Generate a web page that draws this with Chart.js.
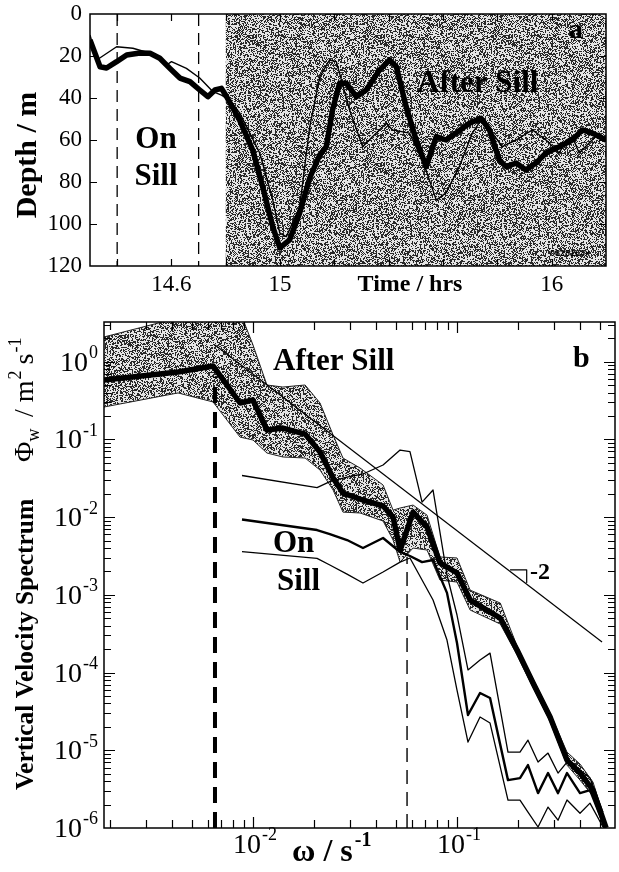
<!DOCTYPE html>
<html>
<head>
<meta charset="utf-8">
<script src="https://cdn.jsdelivr.net/npm/chart.js@4.4.0/dist/chart.umd.min.js"></script>
<style>
  body { margin: 0; background: #fff; }
  #wrap { position: relative; width: 619px; height: 872px; }
  canvas { position: absolute; left: 0; }
</style>
</head>
<body>
<div id="wrap">
  <canvas id="depthChart" width="619" height="300" style="top:0px"></canvas>
  <canvas id="spectrumChart" width="619" height="572" style="top:300px"></canvas>
</div>
<script>
// ---- panel a : isopycnal depth vs time ----
const timeThick = [14.300, 14.337, 14.361, 14.398, 14.435, 14.484, 14.521, 14.557, 14.594, 14.631, 14.668, 14.704, 14.734, 14.760, 14.784, 14.803,
  14.851, 14.899, 14.936, 14.973, 14.999, 15.035, 15.072, 15.109, 15.146, 15.170, 15.193, 15.219, 15.244, 15.281, 15.317, 15.366, 15.403, 15.428,
  15.464, 15.501, 15.538, 15.575, 15.611, 15.648, 15.697, 15.740, 15.771, 15.807, 15.832, 15.869, 15.905, 15.942, 15.979, 16.028, 16.076, 16.113, 16.149, 16.2];
const depthThick = [12.4, 25.1, 25.7, 22.7, 19.5, 18.6, 18.7, 21.1, 25.9, 30.5, 32.2, 36.2, 39.4, 36.2, 35.4, 39.4,
  50.5, 64.8, 82.4, 101.4, 111.4, 107.6, 94.8, 78.1, 67.1, 63.2, 45.7, 33.0, 33.0, 39.4, 36.2, 26.7, 21.9, 25.1,
  44.1, 60.0, 72.7, 58.4, 60.0, 56.7, 52.0, 49.7, 55.2, 69.5, 72.7, 71.0, 74.3, 71.0, 66.2, 63.2, 60.0, 55.2, 56.7, 60.0];

const timeThin = [14.300, 14.325, 14.398, 14.458, 14.521, 14.582, 14.600, 14.655, 14.704, 14.753, 14.784, 14.815, 14.851, 14.925, 14.973, 14.999,
  15.023, 15.072, 15.109, 15.146, 15.182, 15.207, 15.256, 15.304, 15.340, 15.391, 15.414, 15.476, 15.524, 15.575, 15.611, 15.660, 15.708, 15.740,
  15.782, 15.818, 15.869, 15.929, 15.979, 16.028, 16.053, 16.076, 16.101, 16.138, 16.175, 16.2];
const depthThin = [10.0, 21.9, 15.6, 16.3, 18.7, 24.3, 22.7, 25.9, 30.5, 37.0, 38.6, 41.0, 47.1, 66.2, 88.6, 104.3,
  106.0, 91.9, 53.7, 29.9, 21.9, 22.7, 45.7, 63.2, 58.4, 52.0, 55.2, 56.7, 69.5, 88.6, 85.2, 72.7, 56.7, 50.5,
  56.7, 63.2, 60.0, 55.2, 60.0, 66.2, 60.0, 58.4, 66.2, 61.4, 56.7, 60.0];

const onSillMarks = [14.4, 14.7];
const afterSillStart = 14.8;
const timeTickLabels = [14.6, 15, 16];
const depthTicks = [0, 20, 40, 60, 80, 100, 120];

// ---- panel b : vertical velocity spectrum ----
const afterFreq  = [0.00186, 0.00429, 0.00637, 0.00864, 0.0100, 0.0117, 0.0140, 0.0180, 0.0213, 0.0247, 0.0276, 0.0335, 0.0434, 0.0486,
  0.0526, 0.0609, 0.0713, 0.0825, 0.100, 0.116, 0.163, 0.197, 0.236, 0.286, 0.346, 0.401, 0.464, 0.538];
const afterMean  = [0.581, 0.737, 0.880, 0.294, 0.321, 0.132, 0.140, 0.117, 0.0689, 0.0319, 0.0204, 0.0171, 0.0139, 0.0100,
  0.00377, 0.0116, 0.00746, 0.00257, 0.00191, 0.000857, 0.000503, 0.000195, 7.33e-5, 2.68e-5, 7.48e-6, 5.09e-6, 3.07e-6, 1.0e-6];
const afterUpper = [2.08, 3.65, 5.37, 4.36, 1.64, 0.501, 0.472, 0.501, 0.294, 0.114, 0.0576, 0.0428, 0.0259, 0.0123,
  0.0131, 0.0143, 0.0106, 0.00307, 0.00298, 0.00115, 0.000784, 0.000219, 8.25e-5, 3.01e-5, 9.48e-6, 6.65e-6, 3.90e-6, 1.12e-6];
const afterLower = [0.261, 0.396, 0.303, 0.107, 0.0982, 0.0668, 0.0594, 0.0576, 0.0404, 0.0223, 0.0116, 0.0113, 0.00891, 0.00507,
  0.00264, 0.00400, 0.00377, 0.00155, 0.00146, 0.000637, 0.000421, 0.000168, 6.32e-5, 2.31e-5, 6.45e-6, 4.13e-6, 2.57e-6, 8.9e-7];

const onFreq  = [0.00883, 0.0206, 0.0238, 0.0289, 0.0346, 0.0434, 0.0526, 0.0588, 0.0674, 0.0763, 0.0893, 0.100, 0.1132, 0.1297,
  0.1452, 0.1778, 0.2036, 0.2228, 0.2496, 0.2794, 0.3127, 0.3462, 0.4009, 0.4487, 0.5196];
const onUpper = [0.0343, 0.0240, 0.0286, 0.0328, 0.0359, 0.0468, 0.0730, 0.0695, 0.0156, 0.0223, 0.00180, 0.000550, 0.000108, 0.000145,
  0.000178, 9.48e-6, 9.48e-6, 1.35e-5, 7.05e-6, 9.20e-6, 5.09e-6, 7.05e-6, 5.56e-6, 4.39e-6, 1.60e-6];
const onMid   = [0.00931, 0.00682, 0.00606, 0.00507, 0.00400, 0.00538, 0.00356, 0.00316, 0.00264, 0.00281, 0.00106, 0.000240, 2.84e-5, 5.45e-5,
  4.70e-5, 4.13e-6, 4.39e-6, 6.45e-6, 2.81e-6, 5.09e-6, 2.81e-6, 5.09e-6, 2.81e-6, 3.07e-6, 1.16e-6];
const onLower = [0.00359, 0.00295, 0.00242, 0.00185, 0.00142, 0.00197, 0.00264, 0.00298, 0.00155, 0.000857, 0.000262, 5.95e-5, 1.275e-5, 2.68e-5,
  2.24e-5, 2.29e-6, 2.29e-6, 1.60e-6, 1.03e-6, 1.86e-6, 1.26e-6, 2.29e-6, 1.55e-6, 2.09e-6, 1.03e-6];

const slopeFreq = [0.00651, 0.514];
const slopeVals = [1.64, 2.47e-4];
const triFreq = [0.182, 0.2196, 0.2196];
const triVals = [0.0021, 0.0021, 0.00144];
const cutoffFreq = [0.00651, 0.0569];
const cutoffTop = [0.64, 0.0031];

const SERIF = "'Liberation Serif', 'Times New Roman', serif";

function pts(xs, ys) {
  return xs.map((x, i) => ({ x: x, y: ys[i] }));
}

// grey stipple like the scanned shading (hashed pixels, purely a texture)
function makeStipple() {
  const w = 128, h = 128;
  const c = document.createElement('canvas');
  c.width = w; c.height = h;
  const g = c.getContext('2d');
  const img = g.createImageData(w, h);
  for (let j = 0; j < h; j++) {
    for (let i = 0; i < w; i++) {
      let k = (j * w + i + 0x9e3779b9) >>> 0;
      k = Math.imul(k ^ (k >>> 16), 0x85ebca6b) >>> 0;
      k = Math.imul(k ^ (k >>> 13), 0xc2b2ae35) >>> 0;
      k = (k ^ (k >>> 16)) >>> 0;
      const v = (k & 255) < 112 ? 40 : 228;
      const p = (j * w + i) * 4;
      img.data[p] = v; img.data[p + 1] = v; img.data[p + 2] = v; img.data[p + 3] = 255;
    }
  }
  g.putImageData(img, 0, 0);
  return c;
}
const stippleCanvas = makeStipple();

function drawPow(ctx, exp, x, y, align, baseSize, supSize) {
  ctx.font = baseSize + 'px ' + SERIF;
  const w1 = ctx.measureText('10').width;
  ctx.font = supSize + 'px ' + SERIF;
  const w2 = ctx.measureText(exp).width;
  const left = align === 'right' ? x - w1 - w2 - 1 : x - (w1 + w2 + 1) / 2;
  ctx.textAlign = 'left';
  ctx.textBaseline = 'alphabetic';
  ctx.font = baseSize + 'px ' + SERIF;
  ctx.fillText('10', left, y);
  ctx.font = supSize + 'px ' + SERIF;
  ctx.fillText(exp, left + w1 + 1, y - baseSize * 0.45);
}

// ---------------- panel a ----------------
const depthPlugin = {
  id: 'depthDeco',
  beforeDatasetsDraw(chart) {
    const { ctx, chartArea, scales } = chart;
    const x0 = scales.x.getPixelForValue(afterSillStart);
    ctx.save();
    ctx.fillStyle = ctx.createPattern(stippleCanvas, 'repeat');
    ctx.fillRect(x0, chartArea.top, chartArea.right - x0, chartArea.bottom - chartArea.top);
    ctx.restore();
  },
  afterDraw(chart) {
    const { ctx, chartArea: a, scales } = chart;
    ctx.save();
    ctx.strokeStyle = '#000';
    ctx.lineWidth = 1.5;
    ctx.strokeRect(a.left, a.top, a.right - a.left, a.bottom - a.top);
    ctx.lineWidth = 1.2;
    ctx.beginPath();
    for (let t = 14.4; t < 16.15; t += 0.2) {
      const px = Math.round(scales.x.getPixelForValue(t)) + 0.5;
      ctx.moveTo(px, a.bottom); ctx.lineTo(px, a.bottom - 7);
      ctx.moveTo(px, a.top); ctx.lineTo(px, a.top + 7);
    }
    depthTicks.slice(1, -1).forEach(d => {
      const py = Math.round(scales.y.getPixelForValue(d)) + 0.5;
      ctx.moveTo(a.left, py); ctx.lineTo(a.left + 7, py);
      ctx.moveTo(a.right, py); ctx.lineTo(a.right - 7, py);
    });
    ctx.stroke();

    ctx.fillStyle = '#000';
    ctx.font = '23px ' + SERIF;
    ctx.textAlign = 'right';
    ctx.textBaseline = 'middle';
    depthTicks.forEach(d => ctx.fillText(String(d), 82, scales.y.getPixelForValue(d)));
    ctx.textAlign = 'center';
    timeTickLabels.forEach(t => ctx.fillText(String(t), scales.x.getPixelForValue(t), 285));
    ctx.font = 'bold 24px ' + SERIF;
    ctx.fillText('Time / hrs', 410, 285);

    ctx.save();
    ctx.translate(28, 155);
    ctx.rotate(-Math.PI / 2);
    ctx.font = 'bold 30px ' + SERIF;
    ctx.fillText('Depth / m', 0, 0);
    ctx.restore();

    ctx.textBaseline = 'alphabetic';
    ctx.font = 'bold 31px ' + SERIF;
    ctx.fillText('On', 156, 148);
    ctx.fillText('Sill', 156, 185);
    ctx.textAlign = 'left';
    ctx.fillText('After Sill', 417, 92);
    ctx.font = 'bold 28px ' + SERIF;
    ctx.fillText('a', 569, 38);
    ctx.font = 'bold 9px Arial, sans-serif';
    ctx.fillText('0828163x', 550, 256);
    ctx.restore();
  }
};

new Chart(document.getElementById('depthChart').getContext('2d'), {
  type: 'line',
  data: {
    datasets: [
      { data: pts(timeThick, depthThick), borderColor: '#000', borderWidth: 5.5, order: 1 },
      { data: pts(timeThin, depthThin), borderColor: '#000', borderWidth: 1.4, order: 2 },
      { data: pts([onSillMarks[0], onSillMarks[0]], [0, 120]), borderColor: '#000', borderWidth: 1.3, borderDash: [12, 7], order: 3 },
      { data: pts([onSillMarks[1], onSillMarks[1]], [0, 120]), borderColor: '#000', borderWidth: 1.3, borderDash: [12, 7], order: 3 },
    ],
  },
  options: {
    responsive: false,
    animation: false,
    devicePixelRatio: 1,
    layout: { padding: { left: 0, right: 13, top: 14, bottom: 0 } },
    elements: {
      point: { radius: 0 },
      line: { tension: 0, fill: false, borderJoinStyle: 'round', borderCapStyle: 'butt' },
    },
    plugins: { legend: { display: false }, tooltip: { enabled: false } },
    scales: {
      x: {
        type: 'linear', min: 14.3, max: 16.2,
        grid: { display: false }, border: { display: false },
        ticks: { display: false },
        afterFit: s => { s.height = 34; },
      },
      y: {
        type: 'linear', reverse: true, min: 0, max: 120,
        grid: { display: false }, border: { display: false },
        ticks: { display: false },
        afterFit: s => { s.width = 90; },
      },
    },
  },
  plugins: [depthPlugin],
});

// ---------------- panel b ----------------
const spectrumPlugin = {
  id: 'spectrumDeco',
  afterDraw(chart) {
    const { ctx, chartArea: a, scales } = chart;
    const xs = scales.x, ys = scales.y;
    ctx.save();
    ctx.strokeStyle = '#000';
    ctx.lineWidth = 1.5;
    ctx.strokeRect(a.left, a.top, a.right - a.left, a.bottom - a.top);
    ctx.lineWidth = 1.2;
    ctx.beginPath();
    for (let d = -6; d <= 0; d++) {
      for (let m = 1; m <= 9; m++) {
        const v = m * Math.pow(10, d);
        if (v <= ys.min || v >= ys.max) continue;
        const py = Math.round(ys.getPixelForValue(v)) + 0.5;
        const len = m === 1 ? 11 : 7;
        ctx.moveTo(a.left, py); ctx.lineTo(a.left + len, py);
        ctx.moveTo(a.right, py); ctx.lineTo(a.right - len, py);
      }
    }
    for (let d = -3; d <= -1; d++) {
      for (let m = 1; m <= 9; m++) {
        const v = m * Math.pow(10, d);
        if (v <= xs.min || v >= xs.max) continue;
        const px = Math.round(xs.getPixelForValue(v)) + 0.5;
        const len = m === 1 ? 11 : 8;
        ctx.moveTo(px, a.bottom); ctx.lineTo(px, a.bottom - len);
        ctx.moveTo(px, a.top); ctx.lineTo(px, a.top + len);
      }
    }
    ctx.stroke();

    ctx.fillStyle = '#000';
    for (let d = -6; d <= 0; d++) {
      drawPow(ctx, String(d), 98, ys.getPixelForValue(Math.pow(10, d)) + 9, 'right', 28, 18);
    }
    [-2, -1].forEach(d => drawPow(ctx, String(d), xs.getPixelForValue(Math.pow(10, d)) + 2, 553, 'center', 28, 18));

    // x title
    ctx.textAlign = 'left';
    ctx.textBaseline = 'alphabetic';
    ctx.font = 'bold 32px ' + SERIF;
    ctx.fillText('\u03c9 / s', 292, 561);
    let w = ctx.measureText('\u03c9 / s').width;
    ctx.font = 'bold 20px ' + SERIF;
    ctx.fillText('-1', 292 + w + 2, 546);

    // y title
    ctx.save();
    ctx.translate(33, 490);
    ctx.rotate(-Math.PI / 2);
    ctx.font = 'bold 25.5px ' + SERIF;
    ctx.fillText('Vertical Velocity Spectrum', 0, 0);
    ctx.font = '28px ' + SERIF;
    ctx.fillText('\u03a6', 328, 0);
    w = ctx.measureText('\u03a6').width;
    ctx.font = '18px ' + SERIF;
    ctx.fillText('w', 328 + w, 6);
    ctx.font = '28px ' + SERIF;
    ctx.fillText('/ m', 373, 0);
    w = ctx.measureText('/ m').width;
    ctx.font = '18px ' + SERIF;
    ctx.fillText('2', 373 + w + 1, -12);
    ctx.font = '28px ' + SERIF;
    ctx.fillText('s', 373 + w + 16, 0);
    const w2 = ctx.measureText('s').width;
    ctx.font = '18px ' + SERIF;
    ctx.fillText('-1', 373 + w + 16 + w2 + 1, -12);
    ctx.restore();

    // annotations
    ctx.font = 'bold 31px ' + SERIF;
    ctx.fillText('After Sill', 273, 70);
    ctx.fillText('On', 273, 252);
    ctx.fillText('Sill', 277, 290);
    ctx.font = 'bold 30px ' + SERIF;
    ctx.fillText('b', 573, 67);
    ctx.font = 'bold 24px ' + SERIF;
    ctx.fillText('-2', 530, 279);
    ctx.restore();
  }
};

const stipple = document.getElementById('spectrumChart').getContext('2d').createPattern(stippleCanvas, 'repeat');

new Chart(document.getElementById('spectrumChart').getContext('2d'), {
  type: 'line',
  data: {
    datasets: [
      { data: pts(afterFreq, afterUpper), borderColor: '#222', borderWidth: 1, fill: '+1', backgroundColor: stipple, order: 20 },
      { data: pts(afterFreq, afterLower), borderColor: '#222', borderWidth: 1, order: 19 },
      { data: pts(afterFreq, afterMean), borderColor: '#000', borderWidth: 5.5, order: 1 },
      { data: pts(onFreq, onUpper), borderColor: '#000', borderWidth: 1.3, order: 4 },
      { data: pts(onFreq, onMid), borderColor: '#000', borderWidth: 2.4, order: 3 },
      { data: pts(onFreq, onLower), borderColor: '#000', borderWidth: 1.3, order: 5 },
      { data: pts(slopeFreq, slopeVals), borderColor: '#000', borderWidth: 1.2, order: 6 },
      { data: pts(triFreq, triVals), borderColor: '#000', borderWidth: 1.2, order: 6 },
      { data: pts([cutoffFreq[0], cutoffFreq[0]], [1e-6, cutoffTop[0]]), borderColor: '#000', borderWidth: 4, borderDash: [16, 9], order: 7 },
      { data: pts([cutoffFreq[1], cutoffFreq[1]], [1e-6, cutoffTop[1]]), borderColor: '#000', borderWidth: 1.4, borderDash: [14, 8], order: 7 },
    ],
  },
  options: {
    responsive: false,
    animation: false,
    devicePixelRatio: 1,
    layout: { padding: { left: 0, right: 4, top: 22, bottom: 0 } },
    elements: {
      point: { radius: 0 },
      line: { tension: 0, fill: false, borderJoinStyle: 'round' },
    },
    plugins: { legend: { display: false }, tooltip: { enabled: false } },
    scales: {
      x: {
        type: 'logarithmic', min: 0.00186, max: 0.595,
        grid: { display: false }, border: { display: false },
        ticks: { display: false },
        afterFit: s => { s.height = 44; },
      },
      y: {
        type: 'logarithmic', min: 1e-6, max: 3.24,
        grid: { display: false }, border: { display: false },
        ticks: { display: false },
        afterFit: s => { s.width = 104; },
      },
    },
  },
  plugins: [spectrumPlugin],
});
</script>
</body>
</html>
